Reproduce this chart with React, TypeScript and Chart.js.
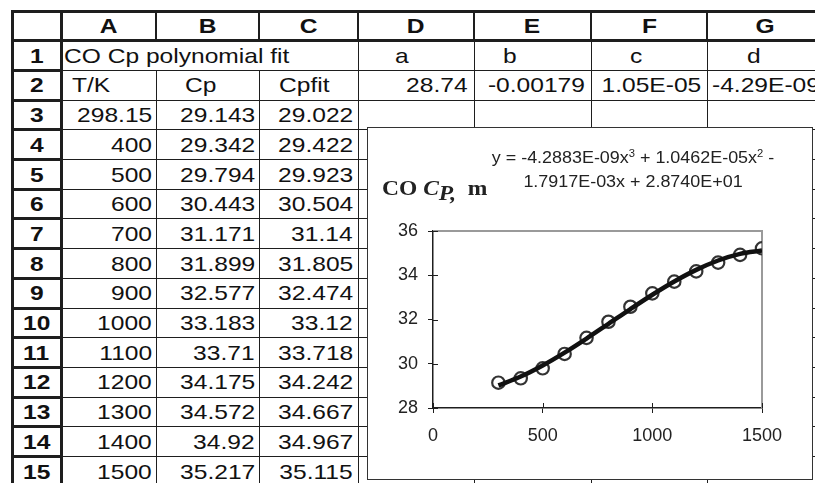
import React, { useEffect, useRef } from "react";
import { Chart, registerables } from "chart.js";

Chart.register(...registerables);

// ---------- data ----------
const columnLetters = ["A", "B", "C", "D", "E", "F", "G"];
const rowNumbers = [1, 2, 3, 4, 5, 6, 7, 8, 9, 10, 11, 12, 13, 14, 15];
const sheetTitle = "CO Cp polynomial fit";
const coefficientNames = ["a", "b", "c", "d"];
const coefficientValues = ["28.74", "-0.00179", "1.05E-05", "-4.29E-09"];
const columnTitles = ["T/K", "Cp", "Cpfit"];
const temperatures = [298.15, 400, 500, 600, 700, 800, 900, 1000, 1100, 1200, 1300, 1400, 1500];
const cpValues = [29.143, 29.342, 29.794, 30.443, 31.171, 31.899, 32.577, 33.183, 33.71, 34.175, 34.572, 34.92, 35.217];
const cpFitValues = [29.022, 29.422, 29.923, 30.504, 31.14, 31.805, 32.474, 33.12, 33.718, 34.242, 34.667, 34.967, 35.115];
const xTickValues = [0, 500, 1000, 1500];
const yTickValues = [28, 30, 32, 34, 36];
const equationLine1 = ["y = -4.2883E-09x", "3", " + 1.0462E-05x", "2", " -"];
const equationLine2 = "1.7917E-03x + 2.8740E+01";
const titleParts = ["CO ", "C", "P,", "\u00a0\u00a0m"];

// ---------- layout ----------
const SANS = "'Liberation Sans', Arial, Helvetica, sans-serif";
const SERIF = "'Liberation Serif', 'Times New Roman', serif";
const COL_X = [12, 61, 156, 259, 358, 474, 591, 707, 823];
const ROW_TOP = 11;
const ROW_H = 29.7;
const rowY = (k: number) => ROW_TOP + ROW_H * k;
const LINE = "#1e1e1e";
const FONT_PX = 21;
const SX = 1.17; // horizontal stretch of the sheet lettering

// label paddings for the header texts (px from the cell edge)
const coefNamePad = [37, 29, 39, 40];
const titlePad = [11, 29, 20];

function HLine({ x1, x2, y, w }: { x1: number; x2: number; y: number; w: number }) {
  return (
    <div style={{ position: "absolute", left: x1, top: y - w / 2, width: x2 - x1, height: w, background: LINE }} />
  );
}
function VLine({ x, y1, y2, w }: { x: number; y1: number; y2: number; w: number }) {
  return (
    <div style={{ position: "absolute", left: x - w / 2, top: y1, width: w, height: y2 - y1, background: LINE }} />
  );
}

function Cell({
  c0, c1, r, text, align, pad = 4, bold = false, overflow = false,
}: { c0: number; c1: number; r: number; text: string; align: "left" | "right" | "center"; pad?: number; bold?: boolean; overflow?: boolean }) {
  const left = COL_X[c0];
  const right = COL_X[c1];
  const top = rowY(r);
  return (
    <div
      style={{
        position: "absolute",
        left,
        top,
        width: right - left,
        height: ROW_H,
        lineHeight: ROW_H + "px",
        textAlign: align,
        paddingLeft: align === "left" ? pad : 0,
        paddingRight: align === "right" ? pad : 0,
        boxSizing: "border-box",
        fontFamily: SANS,
        fontSize: FONT_PX,
        fontWeight: bold ? 700 : 400,
        color: "#111",
        whiteSpace: "nowrap",
        overflow: overflow ? "visible" : "hidden",
      }}
    >
      <span
        style={{
          display: "inline-block",
          transform: `scaleX(${SX})`,
          transformOrigin: align === "left" ? "0 50%" : align === "right" ? "100% 50%" : "50% 50%",
        }}
      >
        {text}
      </span>
    </div>
  );
}

function Sheet() {
  const lines: React.ReactNode[] = [];
  for (let k = 2; k <= 16; k++) lines.push(<HLine key={"h" + k} x1={COL_X[1]} x2={815} y={rowY(k)} w={1} />);
  for (let c = 2; c <= 7; c++) {
    const start = c === 2 || c === 3 ? rowY(2) : rowY(1);
    lines.push(<VLine key={"v" + c} x={COL_X[c]} y1={start} y2={483} w={1} />);
  }
  for (let c = 2; c <= 7; c++) lines.push(<VLine key={"hv" + c} x={COL_X[c]} y1={ROW_TOP} y2={rowY(1)} w={2} />);
  for (let k = 2; k <= 16; k++) lines.push(<HLine key={"rh" + k} x1={COL_X[0]} x2={COL_X[1]} y={rowY(k)} w={3} />);
  lines.push(<HLine key="top" x1={COL_X[0] - 1.5} x2={815} y={ROW_TOP} w={3} />);
  lines.push(<HLine key="hb" x1={COL_X[0]} x2={815} y={rowY(1)} w={3} />);
  lines.push(<VLine key="left" x={COL_X[0]} y1={ROW_TOP} y2={483} w={3} />);
  lines.push(<VLine key="hr" x={COL_X[1]} y1={ROW_TOP} y2={483} w={3} />);

  const cells: React.ReactNode[] = [];
  columnLetters.forEach((l, i) =>
    cells.push(<Cell key={"cl" + i} c0={i + 1} c1={i + 2} r={0} text={l} align="center" bold />)
  );
  rowNumbers.forEach((n) =>
    cells.push(<Cell key={"rn" + n} c0={0} c1={1} r={n} text={String(n)} align="center" bold />)
  );
  cells.push(<Cell key="title" c0={1} c1={4} r={1} text={sheetTitle} align="left" pad={3} />);
  coefficientNames.forEach((nm, i) =>
    cells.push(<Cell key={"cn" + i} c0={4 + i} c1={5 + i} r={1} text={nm} align="left" pad={coefNamePad[i]} />)
  );
  columnTitles.forEach((t, i) =>
    cells.push(<Cell key={"ct" + i} c0={1 + i} c1={2 + i} r={2} text={t} align="left" pad={titlePad[i]} />)
  );
  coefficientValues.forEach((v, i) =>
    i < 3
      ? cells.push(<Cell key={"cv" + i} c0={4 + i} c1={5 + i} r={2} text={v} align="right" pad={6} />)
      : cells.push(<Cell key={"cv" + i} c0={4 + i} c1={5 + i} r={2} text={v} align="left" pad={5} overflow />)
  );
  temperatures.forEach((t, i) => {
    cells.push(<Cell key={"t" + i} c0={1} c1={2} r={3 + i} text={String(t)} align="right" pad={4} />);
    cells.push(<Cell key={"cp" + i} c0={2} c1={3} r={3 + i} text={String(cpValues[i])} align="right" pad={4} />);
    cells.push(<Cell key={"cf" + i} c0={3} c1={4} r={3 + i} text={String(cpFitValues[i])} align="right" pad={5} />);
  });
  return (
    <>
      {cells}
      {lines}
    </>
  );
}

const crossTicks = {
  id: "crossTicks",
  beforeDatasetsDraw(chart: any) {
    const { ctx, chartArea: a, scales } = chart;
    ctx.save();
    ctx.strokeStyle = "#9a9a9a";
    ctx.lineWidth = 2;
    ctx.beginPath();
    ctx.moveTo(a.left, a.top);
    ctx.lineTo(a.right, a.top);
    ctx.lineTo(a.right, a.bottom);
    ctx.stroke();
    ctx.strokeStyle = LINE;
    ctx.lineWidth = 1;
    ctx.beginPath();
    scales.x.ticks.forEach((t: any) => {
      const px = Math.round(scales.x.getPixelForValue(t.value)) + 0.5;
      ctx.moveTo(px, a.bottom);
      ctx.lineTo(px, a.bottom - 5);
    });
    scales.y.ticks.forEach((t: any) => {
      const py = Math.round(scales.y.getPixelForValue(t.value)) + 0.5;
      ctx.moveTo(a.left, py);
      ctx.lineTo(a.left + 5, py);
    });
    ctx.stroke();
    ctx.restore();
  },
};

const BOX_L = 367, BOX_T = 127, BOX_W = 446, BOX_H = 353;
const CANVAS_W = BOX_W - 2, CANVAS_H = BOX_H - 2;

function CpChart() {
  const ref = useRef<HTMLCanvasElement | null>(null);
  useEffect(() => {
    if (!ref.current) return;
    const tickFont = { family: SANS, size: 18 };
    const chart = new Chart(ref.current, {
      type: "scatter",
      data: {
        datasets: [
          {
            label: "fit",
            data: temperatures.map((t, i) => ({ x: t, y: cpFitValues[i] })),
            showLine: true,
            borderColor: "#111",
            borderWidth: 4.5,
            pointRadius: 0,
            cubicInterpolationMode: "monotone",
            order: 0,
          },
          {
            label: "Cp",
            data: temperatures.map((t, i) => ({ x: t, y: cpValues[i] })),
            showLine: false,
            pointRadius: 6.2,
            pointBorderWidth: 2.2,
            pointBorderColor: "#333",
            pointBackgroundColor: "rgba(0,0,0,0)",
            order: 1,
          },
        ],
      },
      options: {
        animation: false,
        responsive: false,
        maintainAspectRatio: false,
        layout: { padding: { top: 103, right: 50, left: 0, bottom: 0 } },
        plugins: { legend: { display: false }, tooltip: { enabled: false }, title: { display: false } },
        scales: {
          x: {
            type: "linear",
            min: 0,
            max: 1500,
            afterBuildTicks: (s: any) => {
              s.ticks = xTickValues.map((v) => ({ value: v }));
            },
            afterFit: (s: any) => {
              s.height = 71;
            },
            grid: { drawOnChartArea: false, drawTicks: true, tickLength: 5, color: LINE, lineWidth: 1 },
            border: { display: true, color: LINE, width: 1.5 },
            ticks: { color: "#222", font: tickFont, padding: 12, maxRotation: 0, callback: (v: any) => String(v) },
          },
          y: {
            type: "linear",
            min: 28,
            max: 36,
            afterBuildTicks: (s: any) => {
              s.ticks = yTickValues.map((v) => ({ value: v }));
            },
            afterFit: (s: any) => {
              s.width = 65;
            },
            grid: { drawOnChartArea: false, drawTicks: true, tickLength: 5, color: LINE, lineWidth: 1 },
            border: { display: true, color: LINE, width: 1.5 },
            ticks: { color: "#222", font: tickFont, padding: 10, callback: (v: any) => String(v) },
          },
        },
      },
      plugins: [crossTicks],
    } as any);
    return () => chart.destroy();
  }, []);

  return (
    <div
      style={{
        position: "absolute",
        left: BOX_L,
        top: BOX_T,
        width: BOX_W,
        height: BOX_H,
        border: "1px solid #333",
        boxSizing: "border-box",
        background: "#fff",
      }}
    >
      <canvas
        ref={ref}
        width={CANVAS_W}
        height={CANVAS_H}
        style={{ position: "absolute", left: 0, top: 0, width: CANVAS_W, height: CANVAS_H }}
      />
      <div
        style={{
          position: "absolute",
          left: 14,
          top: 50,
          fontFamily: SERIF,
          fontWeight: 700,
          fontSize: 21,
          lineHeight: "21px",
          color: "#222",
          whiteSpace: "nowrap",
          transform: "scaleX(1.12)",
          transformOrigin: "0 50%",
        }}
      >
        <span>{titleParts[0]}</span>
        <span style={{ fontStyle: "italic" }}>{titleParts[1]}</span>
        <span style={{ fontStyle: "italic", position: "relative", top: 5 }}>{titleParts[2]}</span>
        <span>{titleParts[3]}</span>
      </div>
      <div
        style={{
          position: "absolute",
          left: 65,
          top: 18,
          width: 400,
          textAlign: "center",
          fontFamily: SANS,
          fontSize: 16,
          lineHeight: "24px",
          color: "#222",
          whiteSpace: "nowrap",
          transform: "scaleX(1.12)",
          transformOrigin: "50% 50%",
        }}
      >
        <div>
          {equationLine1[0]}
          <sup style={{ fontSize: 10, lineHeight: 0 }}>{equationLine1[1]}</sup>
          {equationLine1[2]}
          <sup style={{ fontSize: 10, lineHeight: 0 }}>{equationLine1[3]}</sup>
          {equationLine1[4]}
        </div>
        <div>{equationLine2}</div>
      </div>
    </div>
  );
}

export default function App() {
  return (
    <div
      style={{
        position: "absolute",
        left: 0,
        top: 0,
        width: 815,
        height: 483,
        overflow: "hidden",
        background: "#fff",
      }}
    >
      <Sheet />
      <CpChart />
    </div>
  );
}
